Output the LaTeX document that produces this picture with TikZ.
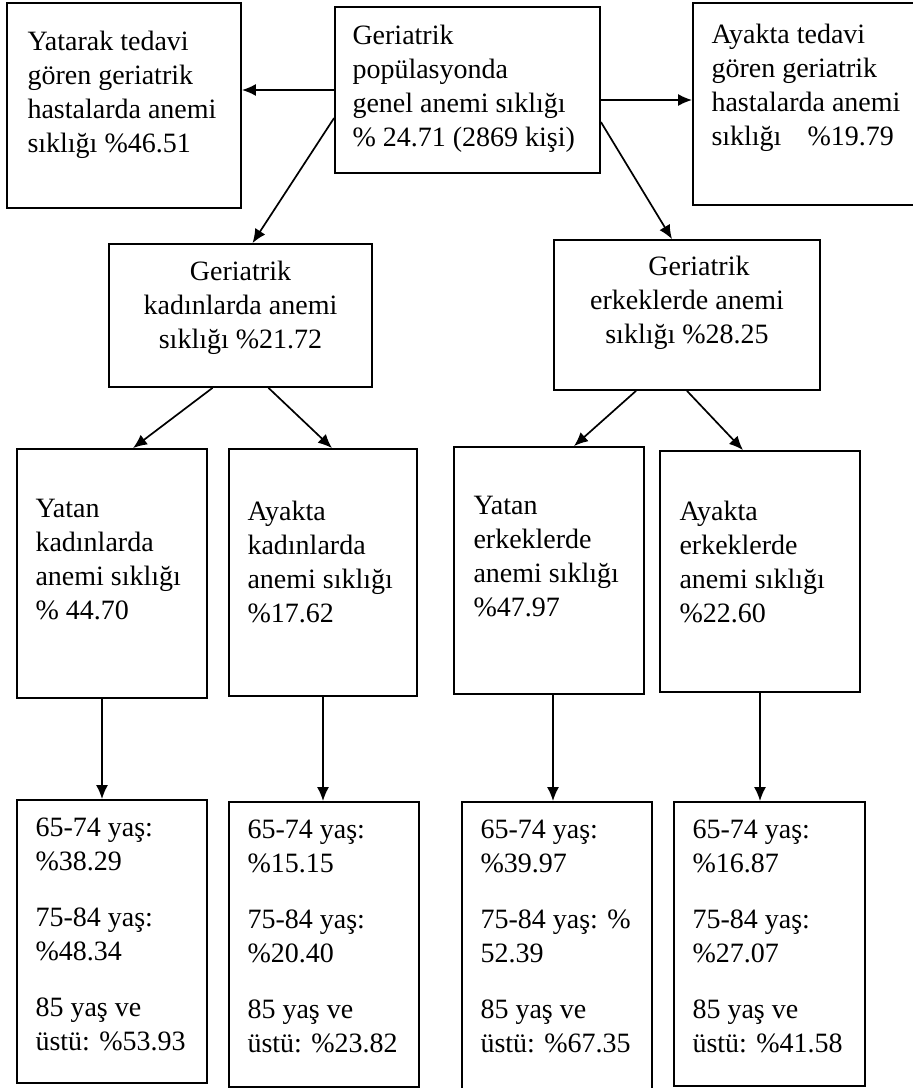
\documentclass[tikz,border=0pt]{standalone}
\usepackage{fontspec}
\setmainfont{Liberation Serif}
\usetikzlibrary{positioning,fit,arrows.meta}

\begin{document}
\begin{tikzpicture}[x=0.5pt, y=-0.5pt, >={Latex[length=7pt,width=6pt]},
    kutu/.style={draw, line width=0.9pt, inner sep=0pt},
    yazi/.style={inner sep=0pt, align=left, font=\fontsize{14}{17}\selectfont},
    ok/.style={->, line width=0.85pt}]
  \useasboundingbox (0,0) rectangle (913,1088);
  % ust sira
  \node[kutu, fit={(7,3) (241,208)}] (yatarak) {};
  \node[kutu, fit={(335,7) (600,173)}] (genel) {};
  \node[kutu, fit={(693,3) (920,205)}] (ayakta) {};
  \node[yazi, below right=14.5pt and 10.5pt of yatarak.north west] (yatarakT)
    {Yatarak tedavi\\ gören geriatrik\\ hastalarda anemi\\ sıklığı \%46.51};
  \node[yazi, below right=9.5pt and 9pt of genel.north west] (genelT)
    {Geriatrik\\ popülasyonda\\ genel anemi sıklığı\\ \% 24.71 (2869 kişi)};
  \node[yazi, below right=11pt and 9.5pt of ayakta.north west] (aykataT)
    {Ayakta tedavi\\ gören geriatrik\\ hastalarda anemi\\ sıklığı\hspace{13pt}\%19.79};
  % cinsiyet
  \node[kutu, fit={(109,244) (372,387)}] (kadin) {};
  \node[kutu, fit={(554,240) (820,390)}] (erkek) {};
  \node[yazi, align=center, below=9pt of kadin.north] (kadinT)
    {Geriatrik\\ kadınlarda anemi\\ sıklığı \%21.72};
  \node[yazi, align=center, below=8.5pt of erkek.north] (erkekT)
    {\hspace*{12pt}Geriatrik\\ erkeklerde anemi\\ sıklığı \%28.25};
  % yatan / ayakta
  \node[kutu, fit={(17,449) (207,698)}] (yatanK) {};
  \node[kutu, fit={(229,449) (417,696)}] (ayaktaK) {};
  \node[kutu, fit={(454,447) (644,694)}] (yatanE) {};
  \node[kutu, fit={(660,451) (860,692)}] (ayaktaE) {};
  \node[yazi, below right=25.5pt and 9.5pt of yatanK.north west] (yatanKT)
    {Yatan\\ kadınlarda\\ anemi sıklığı\\ \% 44.70};
  \node[yazi, below right=26.5pt and 9.5pt of ayaktaK.north west] (ayaktaKT)
    {Ayakta\\ kadınlarda\\ anemi sıklığı\\ \%17.62};
  \node[yazi, below right=25pt and 10pt of yatanE.north west] (yatanET)
    {Yatan\\ erkeklerde\\ anemi sıklığı\\ \%47.97};
  \node[yazi, below right=25.5pt and 10pt of ayaktaE.north west] (ayaktaET)
    {Ayakta\\ erkeklerde\\ anemi sıklığı\\ \%22.60};
  % yas gruplari
  \node[kutu, fit={(17,800) (207,1083)}] (yasYK) {};
  \node[kutu, fit={(229,802) (419,1087)}] (yasAK) {};
  \node[kutu, fit={(462,802) (652,1092)}] (yasYE) {};
  \node[kutu, fit={(674,802) (865,1086)}] (yasAE) {};
  \node[yazi, below right=9pt and 9.5pt of yasYK.north west] (yasYKT)
    {65-74 yaş:\\ \%38.29\\[11pt] 75-84 yaş:\\ \%48.34\\[11pt] 85 yaş ve\\ üstü: \%53.93};
  \node[yazi, below right=9pt and 9.5pt of yasAK.north west] (yasAKT)
    {65-74 yaş:\\ \%15.15\\[11pt] 75-84 yaş:\\ \%20.40\\[11pt] 85 yaş ve\\ üstü: \%23.82};
  \node[yazi, below right=9pt and 9.5pt of yasYE.north west] (yasYET)
    {65-74 yaş:\\ \%39.97\\[11pt] 75-84 yaş: \%\\ 52.39\\[11pt] 85 yaş ve\\ üstü: \%67.35};
  \node[yazi, below right=9pt and 9.5pt of yasAE.north west] (yasAET)
    {65-74 yaş:\\ \%16.87\\[11pt] 75-84 yaş:\\ \%27.07\\[11pt] 85 yaş ve\\ üstü: \%41.58};
  % oklar
  \draw[ok] (genel.west) -- (genel.west -| yatarak.east);
  \draw[ok] ([yshift=-5pt]genel.east) -- ([yshift=-5pt]genel.east -| ayakta.west);
  \draw[ok] ([yshift=-14pt]genel.west) -- ([xshift=6pt]kadin.north);
  \draw[ok] ([yshift=-16pt]genel.east) -- ([xshift=-7.5pt]erkek.north);
  \draw[ok] ([xshift=-14pt]kadin.south) -- ([xshift=10.5pt]yatanK.north);
  \draw[ok] ([xshift=14pt]kadin.south) -- ([xshift=4.5pt]ayaktaK.north);
  \draw[ok] ([xshift=-25.5pt]erkek.south) -- ([xshift=12.5pt]yatanE.north);
  \draw[ok] (erkek.south) -- ([xshift=-8.5pt]ayaktaE.north);
  \draw[ok] ([xshift=-5pt]yatanK.south) -- ([xshift=-5pt]yatanK.south |- yasYK.north);
  \draw[ok] (ayaktaK.south) -- (ayaktaK.south |- yasAK.north);
  \draw[ok] ([xshift=2pt]yatanE.south) -- ([xshift=2pt]yatanE.south |- yasYE.north);
  \draw[ok] (ayaktaE.south) -- (ayaktaE.south |- yasAE.north);
\end{tikzpicture}
\end{document}
